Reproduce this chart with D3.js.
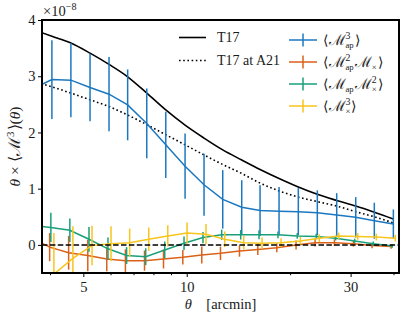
<!DOCTYPE html>
<html>
<head>
<meta charset="utf-8">
<script src="https://cdn.jsdelivr.net/npm/d3@7"></script>
<style>
  body { margin: 0; background: #fff; }
  svg { display: block; }
  text { font-family: 'Liberation Serif', 'Times New Roman', serif; fill: #1a1a1a; }
</style>
</head>
<body>
<svg id="main_svg" width="407" height="320"></svg>
<script>
// aperture statistics, in units of 1e-8; first point lies left of the axis
const theta = [3.57, 4.05, 4.60, 5.23, 5.94, 6.73, 7.65, 8.69, 9.89, 11.23, 12.73,
  14.46, 16.35, 18.57, 21.13, 24.0, 27.33, 31.05, 35.17, 39.96];
const t17 = [3.83, 3.71, 3.59, 3.41, 3.21, 2.99, 2.70, 2.40, 2.13, 1.90, 1.69,
  1.51, 1.34, 1.18, 1.03, 0.90, 0.79, 0.69, 0.58, 0.46];
const t17A21 = [2.91, 2.81, 2.70, 2.58, 2.46, 2.31, 2.14, 1.96, 1.78, 1.60, 1.43,
  1.27, 1.10, 0.96, 0.85, 0.77, 0.69, 0.59, 0.50, 0.39];
const mapMap3 = [2.78, 2.94, 2.93, 2.80, 2.68, 2.49, 2.16, 1.78, 1.40, 1.07, 0.81,
  0.67, 0.61, 0.60, 0.59, 0.57, 0.53, 0.49, 0.43, 0.37];
const mapMap3Err = [0.70, 0.70, 0.66, 0.60, 0.66, 0.63, 0.62, 0.59, 0.58, 0.55, 0.52,
  0.48, 0.45, 0.43, 0.42, 0.40, 0.39, 0.36, 0.32, 0.26];
const map2Mx = [0.13, -0.04, -0.14, -0.19, -0.25, -0.28, -0.28, -0.25, -0.22, -0.18, -0.15,
  -0.11, -0.08, -0.05, 0.00, 0.04, 0.04, 0.02, -0.01, -0.03];
const map2MxErr = [0.25, 0.25, 0.30, 0.28, 0.22, 0.20, 0.18, 0.17, 0.13, 0.15, 0.12,
  0.10, 0.10, 0.08, 0.08, 0.07, 0.06, 0.05, 0.05, 0.04];
const mapMx2 = [0.35, 0.31, 0.26, 0.10, -0.07, -0.19, -0.21, -0.09, 0.03, 0.13, 0.18,
  0.18, 0.18, 0.18, 0.16, 0.15, 0.12, 0.07, 0.02, -0.02];
const mapMx2Err = [0.26, 0.26, 0.21, 0.22, 0.20, 0.15, 0.15, 0.15, 0.12, 0.10, 0.09,
  0.085, 0.08, 0.06, 0.05, 0.05, 0.04, 0.04, 0.04, 0.03];
const mx3 = [-1.2, -0.52, -0.24, -0.01, 0.02, 0.04, 0.10, 0.16, 0.21, 0.19, 0.10,
  0.04, 0.03, 0.04, 0.07, 0.12, 0.16, 0.15, 0.14, 0.12];
const mx3Err = [0.75, 0.73, 0.57, 0.35, 0.31, 0.25, 0.21, 0.19, 0.19, 0.18, 0.14,
  0.12, 0.10, 0.08, 0.07, 0.07, 0.06, 0.06, 0.06, 0.06];

const xTicksMajor = [5, 10, 30];
const xTicksMinor = [4, 6, 7, 8, 9, 20, 40];
const yTicks = [0, 1, 2, 3, 4];

const blue = '#1b78c0', orange = '#db6119', green = '#19a07a', yellow = '#f7c51e';
const serif = "'Liberation Serif', 'Times New Roman', serif";

// error-bar series, each slightly shifted in theta so the bars don't overlap
const series = [
  { vals: mapMap3, err: mapMap3Err, color: blue, shift: 1.0 },
  { vals: map2Mx, err: map2MxErr, color: orange, shift: 0.985 },
  { vals: mapMx2, err: mapMx2Err, color: green, shift: 0.993 },
  { vals: mx3, err: mx3Err, color: yellow, shift: 1.0135 },
];

const svg = d3.select('#main_svg');
const plot = { left: 42, right: 399, top: 20, bottom: 273 };

const x = d3.scaleLog().domain([3.79, 41.5]).range([plot.left, plot.right]);
const y = d3.scaleLinear().domain([-0.5, 4]).range([plot.bottom, plot.top]);

svg.append('clipPath').attr('id', 'clip')
  .append('rect')
  .attr('x', plot.left).attr('y', plot.top)
  .attr('width', plot.right - plot.left).attr('height', plot.bottom - plot.top);

const body = svg.append('g').attr('clip-path', 'url(#clip)');

// theory curves
body.append('path')
  .datum(theta.map((t, i) => [t, t17[i]]))
  .attr('fill', 'none').attr('stroke', '#000').attr('stroke-width', 1.6)
  .attr('d', d3.line().x(d => x(d[0])).y(d => y(d[1])).curve(d3.curveMonotoneX));

body.append('path')
  .datum(theta.map((t, i) => [t, t17A21[i]]))
  .attr('fill', 'none').attr('stroke', '#000').attr('stroke-width', 1.6)
  .attr('stroke-dasharray', '1.6,2.6')
  .attr('d', d3.line().x(d => x(d[0])).y(d => y(d[1])).curve(d3.curveMonotoneX));

// measurements with error bars
series.forEach(s => {
  const pts = theta.map((t, i) => ({ t: t * s.shift, v: s.vals[i], e: s.err[i] }));
  body.append('path')
    .datum(pts)
    .attr('fill', 'none').attr('stroke', s.color).attr('stroke-width', 1.5)
    .attr('d', d3.line().x(d => x(d.t)).y(d => y(d.v)));
  body.selectAll(null)
    .data(pts.slice(1))
    .enter().append('line')
    .attr('x1', d => x(d.t)).attr('x2', d => x(d.t))
    .attr('y1', d => y(d.v - d.e)).attr('y2', d => y(d.v + d.e))
    .attr('stroke', s.color).attr('stroke-width', 1.5);
});

// zero line
body.append('line')
  .attr('x1', plot.left).attr('x2', plot.right)
  .attr('y1', y(0)).attr('y2', y(0))
  .attr('stroke', '#000').attr('stroke-width', 1.5)
  .attr('stroke-dasharray', '5.5,2.4');

// axes
const xMinor = svg.append('g')
  .attr('transform', 'translate(0,' + plot.bottom + ')')
  .call(d3.axisBottom(x).tickValues(xTicksMinor).tickSize(2.2).tickFormat(''));
const xMajor = svg.append('g')
  .attr('transform', 'translate(0,' + plot.bottom + ')')
  .call(d3.axisBottom(x).tickValues(xTicksMajor).tickSize(4).tickPadding(5).tickFormat(d3.format('d')));
const yAxis = svg.append('g')
  .attr('transform', 'translate(' + plot.left + ',0)')
  .call(d3.axisLeft(y).tickValues(yTicks).tickSize(4).tickPadding(2.5).tickFormat(d3.format('d')));

[xMinor, xMajor, yAxis].forEach(a => {
  a.attr('font-family', serif);
  a.select('.domain').remove();
  a.selectAll('line').attr('stroke', '#000').attr('stroke-width', 1);
  a.selectAll('text')
    .attr('font-family', serif)
    .style('font-size', '14.5px').attr('fill', '#1a1a1a');
});

// frame
svg.append('rect')
  .attr('x', plot.left).attr('y', plot.top)
  .attr('width', plot.right - plot.left).attr('height', plot.bottom - plot.top)
  .attr('fill', 'none').attr('stroke', '#000').attr('stroke-width', 2);

// small math typesetting helper: plain runs and stacked sup/sub scripts
function mathText(parent, tokens, size) {
  const g = parent.append('g');
  let cx = 0;
  tokens.forEach(tk => {
    if (tk.t !== undefined) {
      const t = g.append('text').attr('x', cx).attr('y', 0)
        .attr('font-family', tk.font || serif)
        .attr('xml:space', 'preserve')
        .style('font-size', (size * (tk.scale || 1)) + 'px').text(tk.t);
      if (tk.it) t.style('font-style', 'italic');
      cx += t.node().getComputedTextLength() + (tk.pad || 0);
    } else {
      let w = 0;
      if (tk.sup) {
        const s = g.append('text').attr('x', cx).attr('y', -size * 0.42)
          .attr('font-family', serif)
          .style('font-size', (size * 0.7) + 'px').text(tk.sup);
        w = Math.max(w, s.node().getComputedTextLength());
      }
      if (tk.sub) {
        const s = g.append('text').attr('x', cx).attr('y', size * 0.28)
          .attr('font-family', serif)
          .style('font-size', (size * 0.62) + 'px').text(tk.sub);
        w = Math.max(w, s.node().getComputedTextLength());
      }
      cx += w + 1;
    }
  });
  return { g: g, width: cx };
}

const M = { t: 'ℳ', font: "'DejaVu Sans', sans-serif", scale: 1.05 };
const la = { t: '⟨', font: "'DejaVu Sans', sans-serif", pad: 0.5 };
const ra = { t: '⟩', font: "'DejaVu Sans', sans-serif" };

// y label
const yl = mathText(svg, [
  { t: 'θ', it: true }, { t: '\u00a0×\u00a0' }, la, M, { sup: '3' }, ra, { t: '(' }, { t: 'θ', it: true }, { t: ')' }
], 15.5);
yl.g.attr('transform', 'translate(20,' + ((plot.top + plot.bottom) / 2 + yl.width / 2) + ') rotate(-90)');

// x label
const xl = mathText(svg, [{ t: 'θ', it: true }, { t: '\u2003[arcmin]' }], 14.5);
xl.g.attr('transform', 'translate(' + ((plot.left + plot.right) / 2 - xl.width / 2) + ',309)');

// offset text
const off = mathText(svg, [{ t: '×10' }, { sup: '−8' }], 14.5);
off.g.attr('transform', 'translate(43,16)');

// legend
const legend = svg.append('g');
const leg1 = [
  { label: [{ t: 'T17' }], dash: null },
  { label: [{ t: 'T17 at A21' }], dash: '1.6,2.6' },
];
leg1.forEach((d, i) => {
  const yy = 37.5 + i * 23;
  legend.append('line')
    .attr('x1', 179).attr('x2', 206).attr('y1', yy).attr('y2', yy)
    .attr('stroke', '#000').attr('stroke-width', 1.6)
    .attr('stroke-dasharray', d.dash);
  mathText(legend, d.label, 14).g.attr('transform', 'translate(217,' + (yy + 4.5) + ')');
});

const leg2 = [
  [la, M, { sup: '3', sub: 'ap' }, ra],
  [la, M, { sup: '2', sub: 'ap' }, M, { sub: '×' }, ra],
  [la, M, { sub: 'ap' }, M, { sup: '2', sub: '×' }, ra],
  [la, M, { sup: '3', sub: '×' }, ra],
];
leg2.forEach((lab, i) => {
  const yy = 40 + i * 22;
  const c = series[i].color;
  legend.append('line')
    .attr('x1', 289).attr('x2', 317).attr('y1', yy).attr('y2', yy)
    .attr('stroke', c).attr('stroke-width', 1.5);
  legend.append('line')
    .attr('x1', 303).attr('x2', 303).attr('y1', yy - 6.5).attr('y2', yy + 6.5)
    .attr('stroke', c).attr('stroke-width', 1.5);
  mathText(legend, lab, 14).g.attr('transform', 'translate(323,' + (yy + 4.5) + ')');
});
</script>
</body>
</html>
